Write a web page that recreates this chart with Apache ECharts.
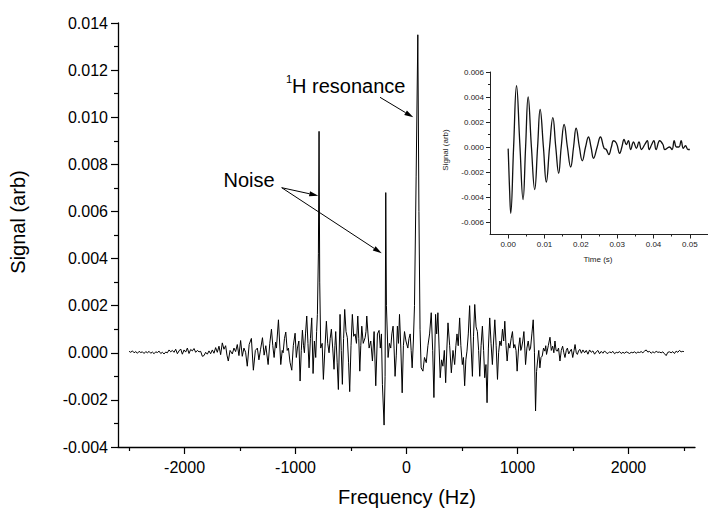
<!DOCTYPE html>
<html>
<head>
<meta charset="utf-8">
<script src="https://cdn.jsdelivr.net/npm/echarts@6/dist/echarts.min.js"></script>
<style>html,body{margin:0;padding:0;background:#fff}#c{width:708px;height:511px}</style>
</head>
<body>
<div id="c"></div>
<script>
// ---- Main spectrum (Frequency in Hz, Signal in arb) ----
const freqHz = [
-2500,-2485,-2470,-2455,-2440,-2425,-2410,-2395,-2380,-2365,-2350,-2335,-2320,-2305,-2290,-2275,-2260,-2245,-2230,-2215,
-2200,-2185,-2170,-2155,-2140,-2125,-2110,-2095,-2080,-2065,-2050,-2035,-2020,-2005,-1990,-1975,-1960,-1945,-1930,-1915,
-1900,-1885,-1870,-1855,-1840,-1825,-1810,-1795,-1780,-1765,-1750,-1735,-1720,-1705,-1690,-1675,-1660,-1645,-1630,-1618,
-1606,-1590,-1570,-1555,-1540,-1525,-1510,-1495,-1480,-1465,-1450,-1435,-1418,-1398,-1380,-1362,-1344,-1330,-1315,-1298,
-1283,-1268,-1247,-1232,-1217,-1205,-1193,-1180,-1172,-1154,-1133,-1120,-1112,-1100,-1088,-1075,-1064,-1050,-1034,-1020,
-1004,-993,-983,-970,-959,-948,-938,-928,-920,-910,-899,-888,-878,-866,-854,-842,-830,-818,-810,-803,
-794,-788,-782,-773,-760,-749,-735,-722,-710,-698,-688,-677,-665,-653,-645,-638,-625,-614,-599,-588,
-578,-567,-557,-545,-533,-522,-512,-500,-488,-476,-463,-451,-439,-430,-421,-412,-403,-390,-373,-365,
-358,-347,-337,-322,-307,-292,-277,-262,-247,-236,-226,-217,-202,-193,-187,-181,-166,-154,-142,-132,
-121,-112,-103,-92,-82,-72,-63,-51,-39,-28,-18,-5,12,22,33,42,51,62,72,87,
102,112,122,132,148,162,178,193,208,223,236,247,262,272,283,294,304,316,328,341,
353,364,374,389,404,419,434,445,455,466,479,490,503,513,524,535,545,557,569,580,
594,604,615,627,639,650,660,672,684,695,705,716,726,738,750,762,774,785,796,808,
820,830,841,853,865,876,886,897,907,920,931,943,955,966,976,987,997,1010,1022,1030,
1037,1048,1058,1066,1073,1085,1097,1108,1118,1130,1142,1153,1163,1172,1181,1192,1202,1212,1223,1235,
1247,1255,1262,1278,1293,1305,1317,1328,1338,1348,1359,1370,1383,1395,1407,1418,1428,1440,1450,1462,
1474,1486,1498,1510,1519,1530,1540,1552,1564,1576,1590,1605,1620,1635,1650,1665,1680,1695,1710,1725,
1740,1755,1770,1785,1800,1815,1830,1845,1860,1875,1890,1905,1920,1935,1950,1965,1980,1995,2010,2025,
2040,2055,2070,2085,2100,2115,2130,2145,2160,2175,2190,2205,2220,2235,2250,2265,2280,2295,2310,2325,
2340,2355,2370,2385,2400,2415,2430,2445,2460,2475,2490,2500
];
const signalArb = [
0.00006,0.00002,0.00008,0.00000,0.00005,-0.00002,0.00006,0.00001,0.00004,-0.00003,0.00005,0.00000,0.00006,-0.00002,0.00003,-0.00004,0.00004,0.00001,0.00007,-0.00003,
0.00002,-0.00005,0.00003,0.00000,0.00012,0.00004,0.00010,0.00002,0.00015,-0.00004,0.00008,0.00016,-0.00006,0.00012,0.00003,0.00020,-0.00003,0.00014,0.00008,0.00018,
0.00002,0.00010,0.00004,0.00006,-0.00015,-0.00012,0.00002,-0.00006,0.00008,-0.00004,0.00012,-0.00002,0.00022,0.00002,0.00028,-0.00008,0.00042,0.00015,0.00030,-0.00010,
-0.00035,0.00010,-0.00005,0.00020,0.00005,0.00035,-0.00012,0.00052,-0.00015,0.00020,0.00002,-0.00057,0.00035,0.00061,-0.00074,0.00010,0.00020,-0.00030,0.00015,0.00064,
-0.00010,0.00030,-0.00050,0.00040,0.00100,0.00030,-0.00020,0.00045,0.00020,0.00140,-0.00050,0.00010,0.00000,0.00060,0.00088,0.00010,0.00020,-0.00040,-0.00074,0.00030,
0.00083,-0.00020,0.00020,0.00050,-0.00120,0.00010,0.00096,0.00030,0.00000,0.00080,0.00156,0.00040,-0.00064,0.00060,0.00148,-0.00088,0.00050,-0.00020,0.00090,0.00163,
0.00420,0.00940,0.00300,0.00020,0.00040,-0.00113,0.00020,0.00134,0.00040,0.00000,0.00060,0.00100,0.00020,-0.00070,0.00030,0.00090,-0.00040,-0.00156,0.00163,0.00010,
-0.00134,0.00060,0.00184,0.00090,0.00064,-0.00040,-0.00165,0.00030,0.00163,0.00070,0.00080,0.00040,0.00156,0.00060,-0.00078,0.00030,0.00113,0.00040,0.00064,0.00090,
0.00156,0.00080,0.00020,0.00050,-0.00035,0.00090,-0.00140,0.00080,0.00095,0.00020,0.00080,-0.00134,-0.00307,-0.00100,0.00680,0.00200,-0.00020,0.00040,0.00020,0.00080,
0.00113,0.00020,-0.00100,-0.00010,0.00113,0.00040,0.00163,0.00020,-0.00170,0.00030,0.00090,0.00050,0.00020,0.00060,0.00080,0.00010,-0.00064,0.00050,0.00200,0.00750,
0.01350,0.00600,0.00100,-0.00064,-0.00078,-0.00020,-0.00042,0.00030,0.00080,0.00170,0.00010,-0.00190,0.00163,0.00080,0.00170,0.00020,-0.00106,-0.00030,-0.00057,0.00010,
-0.00127,0.00020,0.00127,0.00030,-0.00085,0.00010,-0.00050,0.00030,0.00080,0.00030,0.00148,0.00030,-0.00050,-0.00020,-0.00140,-0.00030,0.00007,0.00080,0.00200,0.00050,
-0.00100,0.00070,0.00205,0.00110,0.00090,0.00010,-0.00100,0.00030,0.00113,0.00010,-0.00106,-0.00050,-0.00212,0.00020,0.00148,0.00040,-0.00050,0.00050,0.00140,0.00030,
-0.00113,0.00000,0.00050,0.00030,0.00100,0.00050,0.00134,0.00030,-0.00035,0.00040,0.00020,0.00060,0.00090,0.00020,0.00035,0.00010,-0.00078,0.00020,0.00064,0.00010,
0.00020,0.00050,0.00090,0.00020,-0.00050,0.00020,0.00050,0.00010,0.00020,0.00080,0.00140,0.00000,-0.00247,-0.00080,-0.00035,0.00010,-0.00064,-0.00020,-0.00014,0.00020,
0.00007,0.00030,-0.00007,0.00030,0.00066,0.00010,0.00028,0.00000,0.00050,0.00010,0.00007,0.00020,-0.00035,0.00010,0.00028,0.00000,-0.00020,0.00010,0.00020,-0.00005,
0.00007,0.00015,-0.00020,0.00010,0.00035,0.00000,-0.00007,0.00010,0.00014,-0.00002,0.00012,0.00000,0.00010,-0.00006,0.00012,0.00002,0.00008,-0.00006,0.00004,0.00010,
-0.00004,0.00006,-0.00002,0.00008,0.00000,-0.00003,0.00004,0.00000,0.00006,-0.00004,0.00002,0.00000,0.00005,-0.00003,0.00002,-0.00002,0.00004,0.00001,-0.00003,0.00002,
0.00000,0.00004,-0.00002,0.00003,0.00001,0.00005,0.00000,0.00007,0.00012,0.00003,0.00006,-0.00002,0.00004,0.00000,0.00006,0.00002,0.00003,0.00000,0.00004,-0.00004,
-0.00012,0.00002,0.00004,0.00000,0.00005,-0.00003,0.00007,0.00002,0.00010,0.00004,0.00006,0.00005
];
const freqMajorTicks = [-2000, -1000, 0, 1000, 2000];
const freqMinorTicks = [-2500, -1500, -500, 500, 1500, 2500];

// ---- Inset: free induction decay (Time in s, Signal in arb) ----
const timeS = [
0,0.0004,0.0007,0.0015,0.0023,0.0032,0.0041,0.0048,0.0055,0.0064,0.0073,0.0081,0.0088,0.0097,0.0105,0.0114,0.0123,0.0131,0.0139,0.0146,
0.0154,0.0163,0.0172,0.0180,0.0187,0.0196,0.0204,0.0213,0.0221,0.0228,0.0235,0.0245,0.0254,0.0264,0.0270,0.0277,0.0284,0.0290,0.0298,0.0307,
0.0313,0.0319,0.0325,0.0331,0.0337,0.0345,0.0353,0.0360,0.0367,0.0376,0.0383,0.0388,0.0395,0.0401,0.0407,0.0417,0.0426,0.0431,0.0444,0.0451,
0.0457,0.0463,0.0470,0.0476,0.0482,0.0488,0.0495,0.0500
];
const fidSignal = [
-0.00013,-0.0035,-0.0053,0.0000,0.0049,0.0003,-0.0042,0.0000,0.0040,0.0000,-0.0034,0.0000,0.0030,0.0000,-0.0028,0.0000,0.00235,0.0000,-0.0021,0.0000,
0.0018,0.0000,-0.0016,0.0000,0.0015,0.0000,-0.0011,0.0000,0.0008,0.0000,-0.0009,0.0000,0.0008,-0.0001,-0.0002,-0.0006,0.0000,0.0005,0.0003,-0.0005,
0.0000,0.0006,0.0002,0.0005,-0.0002,0.0004,-0.0001,0.0004,-0.0002,0.0002,0.0005,-0.0002,0.0002,0.0005,-0.0002,0.0005,0.0002,-0.0002,0.0000,-0.0002,
0.0005,0.0000,0.0000,0.0005,-0.0001,0.0001,-0.0002,-0.0002
];
const timeMajorTicks = [0, 0.01, 0.02, 0.03, 0.04, 0.05];
const timeMinorTicks = [0.005, 0.015, 0.025, 0.035, 0.045];
const fidMajorTicks = [-0.006, -0.004, -0.002, 0, 0.002, 0.004, 0.006];
const fidMinorTicks = [-0.005, -0.003, -0.001, 0.001, 0.003, 0.005];

const FONT = '"Liberation Sans", Arial, Helvetica, sans-serif';
const chart = echarts.init(document.getElementById('c'), null, {renderer: 'svg'});

const mainPairs = freqHz.map((f, i) => [f, signalArb[i]]);
const fidPairs = timeS.map((t, i) => [t, fidSignal[i]]);

function arrow(x1, y1, x2, y2) {
  const dx = x2 - x1, dy = y2 - y1, L = Math.hypot(dx, dy);
  const ux = dx / L, uy = dy / L, hl = 9, hw = 2.6;
  const bx = x2 - ux * hl, by = y2 - uy * hl;
  return [
    {type: 'line', shape: {x1: x1, y1: y1, x2: bx, y2: by}, style: {stroke: '#000', lineWidth: 1}},
    {type: 'polygon', shape: {points: [[x2, y2], [bx - uy * hw, by + ux * hw], [bx + uy * hw, by - ux * hw]]}, style: {fill: '#000'}}
  ];
}

const mainLine = {show: true, onZero: false, lineStyle: {color: '#000', width: 1.3}};
const insetLine = {show: true, onZero: false, lineStyle: {color: '#222', width: 1}};
const hiddenLine = {show: false, onZero: false};

const option = {
  animation: false,
  backgroundColor: '#fff',
  grid: [
    {left: 118, top: 23, width: 577, height: 424},
    {left: 490, top: 72, width: 222.5, height: 162.5}
  ],
  xAxis: [
    {gridIndex: 0, type: 'value', position: 'bottom', min: -2600, max: 2600,
     axisLine: mainLine, splitLine: {show: false},
     axisTick: {show: true, inside: false, length: 7, customValues: freqMajorTicks, lineStyle: {color: '#000', width: 1.2}},
     axisLabel: {show: true, customValues: freqMajorTicks, color: '#000', fontFamily: FONT, fontSize: 16, margin: 12,
                 formatter: v => String(Math.round(v))}},
    {gridIndex: 0, type: 'value', position: 'bottom', min: -2600, max: 2600,
     axisLine: hiddenLine, splitLine: {show: false}, axisLabel: {show: false},
     axisTick: {show: true, length: 4, customValues: freqMinorTicks, lineStyle: {color: '#000', width: 1.2}}},
    {gridIndex: 1, type: 'value', position: 'bottom', min: -0.005, max: 0.055,
     axisLine: insetLine, splitLine: {show: false},
     axisTick: {show: true, length: 4, customValues: timeMajorTicks, lineStyle: {color: '#222', width: 1}},
     axisLabel: {show: true, customValues: timeMajorTicks, color: '#222', fontFamily: FONT, fontSize: 8, margin: 6,
                 formatter: v => v.toFixed(2)}},
    {gridIndex: 1, type: 'value', position: 'bottom', min: -0.005, max: 0.055,
     axisLine: hiddenLine, splitLine: {show: false}, axisLabel: {show: false},
     axisTick: {show: true, length: 2, customValues: timeMinorTicks, lineStyle: {color: '#222', width: 1}}}
  ],
  yAxis: [
    {gridIndex: 0, type: 'value', position: 'left', min: -0.004, max: 0.014, interval: 0.002,
     axisLine: mainLine, splitLine: {show: false},
     axisTick: {show: true, length: 7, lineStyle: {color: '#000', width: 1.2}},
     minorTick: {show: true, splitNumber: 2, length: 4, lineStyle: {color: '#000', width: 1.2}},
     axisLabel: {color: '#000', fontFamily: FONT, fontSize: 16, margin: 10, formatter: v => v.toFixed(3)}},
    {gridIndex: 1, type: 'value', position: 'left', min: -0.007, max: 0.006,
     axisLine: insetLine, splitLine: {show: false},
     axisTick: {show: true, length: 4, customValues: fidMajorTicks, lineStyle: {color: '#222', width: 1}},
     axisLabel: {show: true, customValues: fidMajorTicks, color: '#222', fontFamily: FONT, fontSize: 8, margin: 6,
                 formatter: v => v.toFixed(3)}},
    {gridIndex: 1, type: 'value', position: 'left', min: -0.007, max: 0.006,
     axisLine: hiddenLine, splitLine: {show: false}, axisLabel: {show: false},
     axisTick: {show: true, length: 2, customValues: fidMinorTicks, lineStyle: {color: '#222', width: 1}}}
  ],
  series: [
    {type: 'line', xAxisIndex: 0, yAxisIndex: 0, data: mainPairs, showSymbol: false,
     lineStyle: {color: '#000', width: 1}, silent: true},
    {type: 'line', xAxisIndex: 2, yAxisIndex: 1, data: fidPairs, showSymbol: false, smooth: 0.45,
     lineStyle: {color: '#111', width: 1.3}, silent: true}
  ],
  graphic: [
    {type: 'text', x: 18, y: 222, rotation: Math.PI / 2,
     style: {text: 'Signal (arb)', font: '20px ' + FONT, fill: '#000', align: 'center', verticalAlign: 'middle',
             textAlign: 'center', textVerticalAlign: 'middle'}},
    {type: 'text', x: 407, y: 497,
     style: {text: 'Frequency (Hz)', font: '20px ' + FONT, fill: '#000', align: 'center', verticalAlign: 'middle',
             textAlign: 'center', textVerticalAlign: 'middle'}},
    {type: 'text', x: 445, y: 150, rotation: Math.PI / 2,
     style: {text: 'Signal (arb)', font: '8px ' + FONT, fill: '#222', align: 'center', verticalAlign: 'middle',
             textAlign: 'center', textVerticalAlign: 'middle'}},
    {type: 'text', x: 598, y: 259,
     style: {text: 'Time (s)', font: '8px ' + FONT, fill: '#222', align: 'center', verticalAlign: 'middle',
             textAlign: 'center', textVerticalAlign: 'middle'}},
    {type: 'text', x: 249, y: 180,
     style: {text: 'Noise', font: '20px ' + FONT, fill: '#000', align: 'center', verticalAlign: 'middle',
             textAlign: 'center', textVerticalAlign: 'middle'}},
    {type: 'text', x: 286, y: 79,
     style: {text: '1', font: '11px ' + FONT, fill: '#000', align: 'left', verticalAlign: 'middle',
             textAlign: 'left', textVerticalAlign: 'middle'}},
    {type: 'text', x: 292, y: 86,
     style: {text: 'H resonance', font: '20px ' + FONT, fill: '#000', align: 'left', verticalAlign: 'middle',
             textAlign: 'left', textVerticalAlign: 'middle'}}
  ].concat(arrow(281.7, 187.7, 318.3, 195.7))
   .concat(arrow(281.7, 187.7, 381.7, 253.3))
   .concat(arrow(380, 97.3, 413.3, 117.3))
};
chart.setOption(option);
</script>
</body>
</html>
